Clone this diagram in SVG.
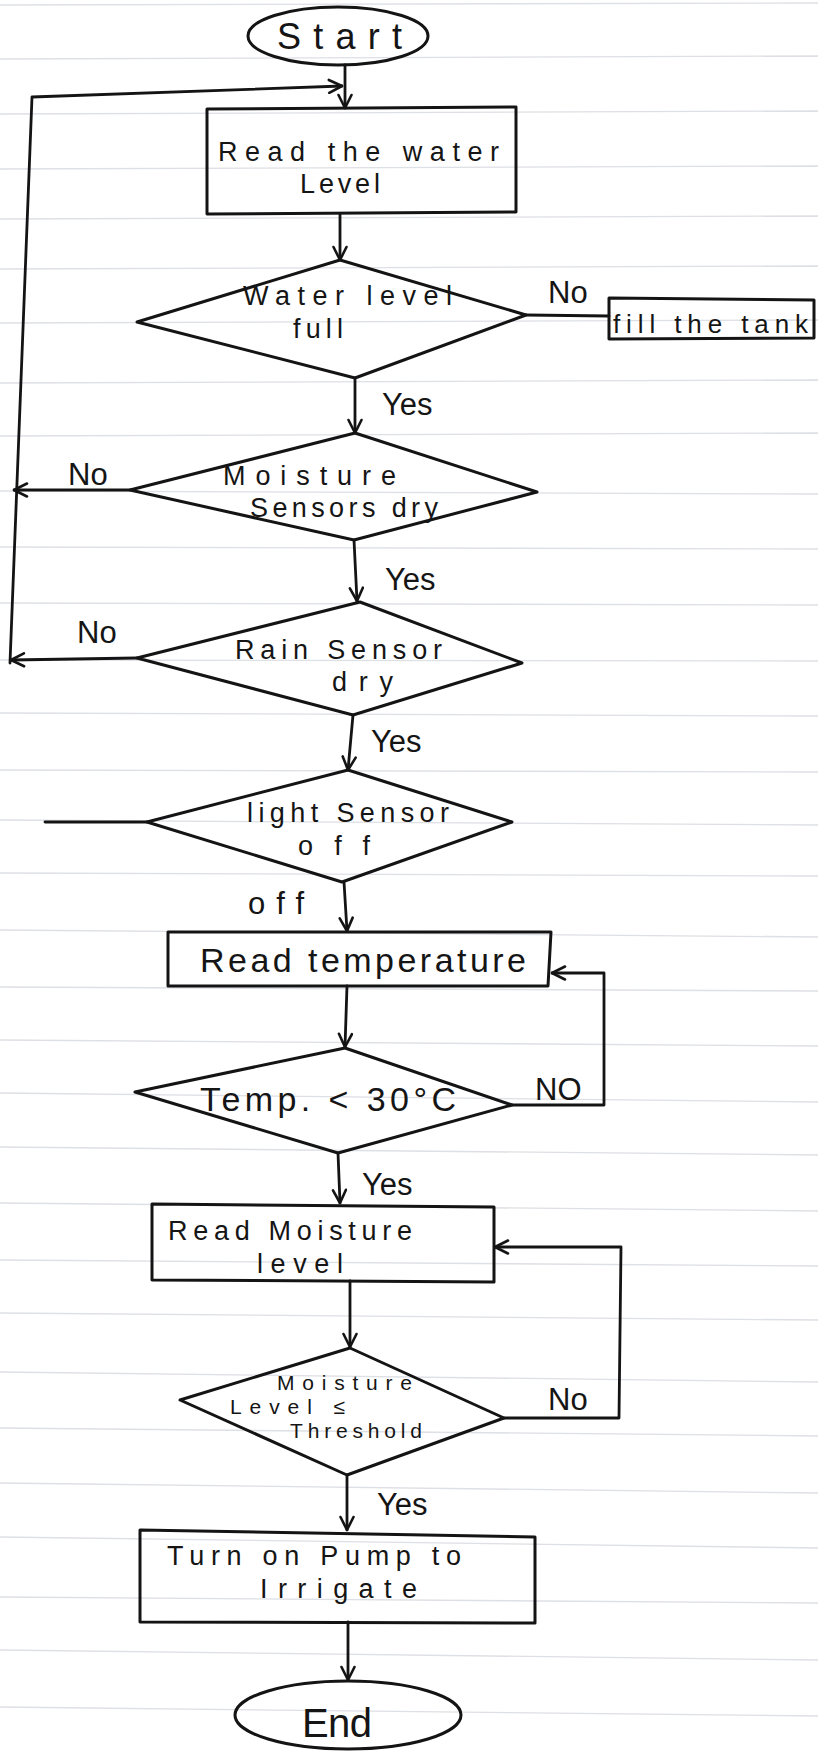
<svg xmlns="http://www.w3.org/2000/svg" width="818" height="1752" viewBox="0 0 818 1752">
<defs>
<style>
.shape{fill:none;stroke:#141414;stroke-width:3;stroke-linejoin:round}
.conn{fill:none;stroke:#141414;stroke-width:2.8;stroke-linecap:round;stroke-linejoin:round}
.arrow{marker-end:url(#arr)}
.t{font-family:"Liberation Sans",Arial,sans-serif;fill:#151515;font-size:27px}
.lbl{font-family:"Liberation Sans",Arial,sans-serif;fill:#151515;font-size:31px}
.rule{stroke:#cfd3da;stroke-width:1.3;opacity:0.7}
</style>
<marker id="arr" viewBox="0 0 16 16" refX="15" refY="8" markerWidth="16" markerHeight="16" orient="auto" markerUnits="userSpaceOnUse">
<path d="M2,1.5 L15,8 L2,14.5" fill="none" stroke="#141414" stroke-width="2.6" stroke-linecap="round" stroke-linejoin="round"/>
</marker>
</defs>
<rect x="0" y="0" width="818" height="1752" fill="#ffffff"/>
<g id="paper-rules">
<line class="rule" x1="0" y1="5" x2="818" y2="3"/>
<line class="rule" x1="0" y1="59" x2="818" y2="56"/>
<line class="rule" x1="0" y1="114" x2="818" y2="111"/>
<line class="rule" x1="0" y1="169" x2="818" y2="166"/>
<line class="rule" x1="0" y1="219" x2="818" y2="216"/>
<line class="rule" x1="0" y1="269" x2="818" y2="266"/>
<line class="rule" x1="0" y1="323" x2="818" y2="320"/>
<line class="rule" x1="0" y1="383" x2="818" y2="380"/>
<line class="rule" x1="0" y1="436" x2="818" y2="433"/>
<line class="rule" x1="0" y1="491" x2="818" y2="494"/>
<line class="rule" x1="0" y1="547" x2="818" y2="549"/>
<line class="rule" x1="0" y1="603" x2="818" y2="605"/>
<line class="rule" x1="0" y1="660" x2="818" y2="661"/>
<line class="rule" x1="0" y1="713" x2="818" y2="716"/>
<line class="rule" x1="0" y1="770" x2="818" y2="772"/>
<line class="rule" x1="0" y1="820" x2="818" y2="825"/>
<line class="rule" x1="0" y1="873" x2="818" y2="876"/>
<line class="rule" x1="0" y1="930" x2="818" y2="937"/>
<line class="rule" x1="0" y1="987" x2="818" y2="991"/>
<line class="rule" x1="0" y1="1040" x2="818" y2="1046"/>
<line class="rule" x1="0" y1="1093" x2="818" y2="1102"/>
<line class="rule" x1="0" y1="1147" x2="818" y2="1155"/>
<line class="rule" x1="0" y1="1203" x2="818" y2="1211"/>
<line class="rule" x1="0" y1="1260" x2="818" y2="1266"/>
<line class="rule" x1="0" y1="1313" x2="818" y2="1320"/>
<line class="rule" x1="0" y1="1372" x2="818" y2="1382"/>
<line class="rule" x1="0" y1="1428" x2="818" y2="1436"/>
<line class="rule" x1="0" y1="1483" x2="818" y2="1493"/>
<line class="rule" x1="0" y1="1537" x2="818" y2="1548"/>
<line class="rule" x1="0" y1="1597" x2="818" y2="1603"/>
<line class="rule" x1="0" y1="1650" x2="818" y2="1660"/>
<line class="rule" x1="0" y1="1707" x2="818" y2="1716"/>
</g>

<g id="connectors">
<path class="conn arrow" d="M345,65 L345,108"/>
<path class="conn arrow" d="M10,663 L32,97 L342,86"/>
<path class="conn arrow" d="M340,214 L340,260"/>
<path class="conn" d="M526,315 L609,316"/>
<path class="conn arrow" d="M355,378 L355,433"/>
<path class="conn arrow" d="M130,490 L14,490"/>
<path class="conn arrow" d="M354,540 L357,601"/>
<path class="conn arrow" d="M137,658 L11,660"/>
<path class="conn arrow" d="M353,715 L348,770"/>
<path class="conn" d="M147,822 L45,822"/>
<path class="conn arrow" d="M344,882 L347,931"/>
<path class="conn arrow" d="M347,986 L345,1047"/>
<path class="conn arrow" d="M512,1105 L604,1105 L604,973 L552,973"/>
<path class="conn arrow" d="M338,1153 L340,1203"/>
<path class="conn arrow" d="M350,1281 L350,1347"/>
<path class="conn arrow" d="M504,1418 L619,1418 L621,1247 L495,1247"/>
<path class="conn arrow" d="M347,1475 L347,1530"/>
<path class="conn arrow" d="M348,1622 L348,1680"/>
<text class="lbl" x="548" y="303">No</text>
<text class="lbl" x="382" y="415">Yes</text>
<text class="lbl" x="68" y="485">No</text>
<text class="lbl" x="385" y="590">Yes</text>
<text class="lbl" x="77" y="643">No</text>
<text class="lbl" x="371" y="752">Yes</text>
<text class="lbl" x="248" y="914" textLength="56" lengthAdjust="spacing">off</text>
<text class="lbl" x="535" y="1100">NO</text>
<text class="lbl" x="362" y="1195">Yes</text>
<text class="lbl" x="548" y="1410">No</text>
<text class="lbl" x="377" y="1515">Yes</text>
</g>

<g id="start">
<ellipse class="shape" cx="338" cy="36" rx="90" ry="29"/>
<text class="t" x="277" y="49" style="font-size:36px" textLength="125" lengthAdjust="spacing">Start</text>
</g>

<g id="read-water-level">
<polygon class="shape" points="207,109 516,107 516,212 207,214"/>
<text class="t" x="218" y="161" textLength="281" lengthAdjust="spacing">Read the water</text>
<text class="t" x="300" y="193" textLength="80" lengthAdjust="spacing">Level</text>
</g>

<g id="water-level-full">
<polygon class="shape" points="137,322 340,260 526,315 355,378"/>
<text class="t" x="243" y="305" textLength="209" lengthAdjust="spacing">Water level</text>
<text class="t" x="293" y="338" textLength="50" lengthAdjust="spacing">full</text>
</g>

<g id="fill-tank">
<polygon class="shape" points="609,298 814,300 814,338 609,339"/>
<text class="t" x="613" y="333" style="font-size:26px" textLength="195" lengthAdjust="spacing">fill the tank</text>
</g>

<g id="moisture-sensor">
<polygon class="shape" points="130,490 355,433 537,492 354,540"/>
<text class="t" x="223" y="485" textLength="173" lengthAdjust="spacing">Moisture</text>
<text class="t" x="250" y="517" textLength="188" lengthAdjust="spacing">Sensors dry</text>
</g>

<g id="rain-sensor">
<polygon class="shape" points="137,658 360,602 522,663 353,715"/>
<text class="t" x="235" y="659" textLength="207" lengthAdjust="spacing">Rain Sensor</text>
<text class="t" x="332" y="691" textLength="61" lengthAdjust="spacing">dry</text>
</g>

<g id="light-sensor">
<polygon class="shape" points="147,822 348,770 512,822 342,882"/>
<text class="t" x="247" y="822" textLength="202" lengthAdjust="spacing">light Sensor</text>
<text class="t" x="298" y="855" textLength="72" lengthAdjust="spacing">off</text>
</g>

<g id="read-temperature">
<polygon class="shape" points="168,932 551,932 548,986 168,986"/>
<text class="t" x="200" y="972" style="font-size:34px" textLength="326" lengthAdjust="spacing">Read temperature</text>
</g>

<g id="temp-check">
<polygon class="shape" points="135,1092 345,1048 512,1105 338,1153"/>
<text class="t" x="200" y="1111" style="font-size:34px" textLength="256" lengthAdjust="spacing">Temp. &lt; 30°C</text>
</g>

<g id="read-moisture">
<polygon class="shape" points="152,1204 494,1207 494,1282 152,1280"/>
<text class="t" x="168" y="1240" textLength="244" lengthAdjust="spacing">Read Moisture</text>
<text class="t" x="257" y="1273" textLength="86" lengthAdjust="spacing">level</text>
</g>

<g id="moisture-check">
<polygon class="shape" points="180,1400 350,1348 504,1418 347,1475"/>
<text class="t" x="277" y="1390" style="font-size:21px" textLength="135" lengthAdjust="spacing">Moisture</text>
<text class="t" x="230" y="1414" style="font-size:21px" textLength="115" lengthAdjust="spacing">Level ≤</text>
<text class="t" x="290" y="1438" style="font-size:21px" textLength="132" lengthAdjust="spacing">Threshold</text>
</g>

<g id="turn-on-pump">
<polygon class="shape" points="140,1530 535,1537 535,1623 140,1622"/>
<text class="t" x="167" y="1565" textLength="294" lengthAdjust="spacing">Turn on Pump to</text>
<text class="t" x="260" y="1598" textLength="157" lengthAdjust="spacing">Irrigate</text>
</g>

<g id="end">
<ellipse class="shape" cx="348" cy="1715" rx="113" ry="34"/>
<text class="t" x="302" y="1737" style="font-size:40px" textLength="70" lengthAdjust="spacing">End</text>
</g>
</svg>
